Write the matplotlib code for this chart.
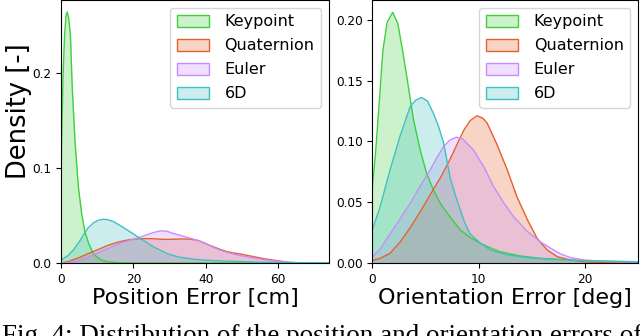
import matplotlib
matplotlib.use("Agg")
import matplotlib.pyplot as plt
from matplotlib.patches import Patch
from matplotlib.colors import to_rgba

labels = ["Keypoint", "Quaternion", "Euler", "6D"]
colors = ["#3fcf3f", "#e4622c", "#c88cff", "#40c0c0"]

# position error densities
kp_pos_x = [0, 0.3, 0.6, 1.0, 1.4, 1.7, 2.1, 2.6, 3.1, 3.9, 4.8, 5.7, 6.6, 7.6, 8.9, 10, 11.2, 13, 16, 20, 74]
kp_pos_y = [0.09, 0.15, 0.2, 0.24, 0.26, 0.264, 0.258, 0.24, 0.185, 0.126, 0.08, 0.052, 0.033, 0.021, 0.01, 0.006, 0.003, 0.0012, 0.0003, 0, 0]
q_pos_x = [0, 2, 5.25, 7, 8.9, 10.8, 12.6, 14.5, 16.3, 18.2, 20, 21.8, 23.7, 25.5, 27.4, 29.2, 31, 33, 34.8, 35.7,
           37.5, 38.4, 40.2, 42.1, 44, 45.8, 47.7, 49.5, 51.4, 53.2, 55, 56.9, 58.7, 60.5, 63.3, 66, 74]
q_pos_y = [0, 0.0015, 0.006, 0.009, 0.012, 0.015, 0.018, 0.0205, 0.0225, 0.024, 0.025, 0.0255, 0.0256, 0.0255, 0.025,
           0.0248, 0.025, 0.0252, 0.0252, 0.025, 0.024, 0.023, 0.020, 0.017, 0.0143, 0.012, 0.0105, 0.0095, 0.008,
           0.0067, 0.0053, 0.004, 0.003, 0.002, 0.0005, 0, 0]
e_pos_x = [0, 3, 6, 8.9, 12.6, 16.3, 20, 21.8, 23.7, 25.5, 27.4, 29.2, 31, 33, 34.8, 37.5, 40, 42, 44, 46, 48, 50,
           52, 54, 56, 58, 62, 66, 74]
e_pos_y = [0, 0.0008, 0.004, 0.0084, 0.0145, 0.0207, 0.025, 0.027, 0.0297, 0.032, 0.0337, 0.0335, 0.031, 0.029,
           0.027, 0.024, 0.0205, 0.0165, 0.0135, 0.011, 0.009, 0.0075, 0.006, 0.0048, 0.0036, 0.0025, 0.001, 0.0002, 0]
d6_pos_x = [0, 2, 3.4, 5, 6.2, 7.5, 8.9, 10.3, 11.7, 13, 14.5, 16.3, 18.2, 20, 21.8, 23.7, 25.5, 27.4, 29.2, 31,
            32.9, 36.6, 40, 45, 55, 74]
d6_pos_y = [0.003, 0.008, 0.0137, 0.022, 0.0295, 0.037, 0.042, 0.045, 0.046, 0.0455, 0.0435, 0.0395, 0.035, 0.0305,
            0.026, 0.0215, 0.017, 0.0135, 0.010, 0.0078, 0.006, 0.004, 0.003, 0.002, 0.0008, 0]

# orientation error densities
kp_ori_x = [0, 0.3, 0.6, 1.0, 1.4, 1.92, 2.4, 2.9, 3.25, 3.87, 4.5, 5.1, 5.75, 6.4, 7.3, 8.3, 9.2, 10.2, 11.1, 12,
            13.9, 15.8, 17.7, 20, 25.3]
kp_ori_y = [0.062, 0.09, 0.125, 0.175, 0.198, 0.206, 0.197, 0.172, 0.153, 0.118, 0.093, 0.074, 0.06, 0.049, 0.038,
            0.027, 0.021, 0.016, 0.0125, 0.0093, 0.0058, 0.0038, 0.003, 0.0018, 0.0008]
q_ori_x = [0, 0.8, 1.67, 2.6, 3.56, 4.5, 5.44, 6.4, 7.3, 8.0, 8.6, 9.2, 9.85, 10.4, 10.8, 11.7, 12.7, 13.6, 14.6,
           15.5, 16.45, 17.4, 18.6, 20, 22, 25.3]
q_ori_y = [0.002, 0.004, 0.008, 0.017, 0.029, 0.042, 0.056, 0.07, 0.085, 0.098, 0.109, 0.117, 0.121, 0.119, 0.115,
           0.098, 0.0765, 0.0545, 0.0354, 0.0203, 0.0107, 0.0052, 0.0025, 0.001, 0.0003, 0]
e_ori_x = [0, 0.8, 1.67, 2.6, 3.56, 4.5, 5.44, 6.1, 6.7, 7.3, 7.9, 8.5, 9.5, 10.5, 11.4, 12.4, 13.3, 14.6, 15.8,
           16.8, 17.7, 18.6, 19.9, 22, 25.3]
e_ori_y = [0.005, 0.012, 0.024, 0.036, 0.049, 0.063, 0.0765, 0.087, 0.0956, 0.101, 0.1034, 0.102, 0.093, 0.079,
           0.063, 0.049, 0.038, 0.0258, 0.0175, 0.012, 0.0075, 0.0045, 0.0025, 0.0012, 0.0005]
d6_ori_x = [0, 0.73, 1.67, 2.6, 3.56, 4.1, 4.66, 5.2, 5.75, 6.2, 6.7, 7.33, 7.8, 8.27, 8.7, 9.2, 10.2, 11.1, 12.7,
            14.6, 16.8, 20, 25.3]
d6_ori_y = [0.027, 0.046, 0.0765, 0.104, 0.1285, 0.134, 0.136, 0.133, 0.123, 0.113, 0.099, 0.07, 0.056, 0.044,
            0.033, 0.024, 0.016, 0.0107, 0.0066, 0.0044, 0.003, 0.0018, 0.001]

pos_curves = [(kp_pos_x, kp_pos_y), (q_pos_x, q_pos_y), (e_pos_x, e_pos_y), (d6_pos_x, d6_pos_y)]
ori_curves = [(kp_ori_x, kp_ori_y), (q_ori_x, q_ori_y), (e_ori_x, e_ori_y), (d6_ori_x, d6_ori_y)]

fig = plt.figure(figsize=(6.4, 3.36), dpi=100)
ax1 = fig.add_axes([0.0953, 0.2173, 0.4187, 0.7827])
ax2 = fig.add_axes([0.5817, 0.2173, 0.4153, 0.7827])


def draw(ax, curves):
    for (x, y), c in zip(curves, colors):
        ax.fill_between(x, y, color=c, alpha=0.27, linewidth=0)
        ax.plot(x, y, color=c, linewidth=1.0)
    handles = [Patch(facecolor=to_rgba(c, 0.27), edgecolor=c, linewidth=1.0) for c in colors]
    ax.legend(handles, labels, loc="upper right", fontsize=11.5, labelspacing=0.56,
              handlelength=2.0, handleheight=0.8, handletextpad=1.0, borderaxespad=0.5)
    ax.tick_params(labelsize=8.7, length=3.5)


draw(ax1, pos_curves)
ax1.set_xlim(0, 74)
ax1.set_ylim(0, 0.2765)
ax1.set_xticks([0, 20, 40, 60])
ax1.set_yticks([0, 0.1, 0.2])
ax1.set_yticklabels(["0.0", "0.1", "0.2"])
ax1.set_xlabel("Position Error [cm]", fontsize=16, labelpad=2)
ax1.set_ylabel("Density [-]", fontsize=18.5)
ax1.yaxis.set_label_coords(-0.107, 0.578)

draw(ax2, ori_curves)
ax2.set_xlim(0, 25)
ax2.set_ylim(0, 0.2162)
ax2.set_xticks([0, 10, 20])
ax2.set_yticks([0, 0.05, 0.10, 0.15, 0.20])
ax2.set_yticklabels(["0.00", "0.05", "0.10", "0.15", "0.20"])
ax2.set_xlabel("Orientation Error [deg]", fontsize=16, labelpad=2)

fig.text(0.003, 0.036, "Fig. 4: Distribution of the position and orientation errors of",
         family="Liberation Serif", fontsize=19.5, va="top", ha="left")

fig.savefig("out.png", dpi=100)
